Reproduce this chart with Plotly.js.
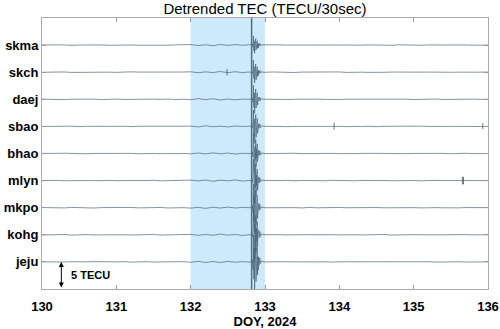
<!DOCTYPE html>
<html>
<head>
<meta charset="utf-8">
<script src="https://cdn.plot.ly/plotly-3.0.1.min.js"></script>
<style>html,body{margin:0;padding:0;background:#fff;}#chart{width:500px;height:329px;}</style>
</head>
<body>
<div id="chart"></div>
<script>
// Station names, top to bottom
const stations = ["skma","skch","daej","sbao","bhao","mlyn","mkpo","kohg","jeju"];

// Sample times (DOY 2024)
const time = [
  130.0,130.1,130.2,130.3,130.4,130.5,130.6,130.7,130.8,130.9,
  131.0,131.1,131.2,131.3,131.4,131.5,131.6,131.7,131.8,131.9,
  132.0,132.1,132.2,132.3,132.4,132.5,132.6,132.7,132.8,
  132.81,132.82,132.83,132.84,132.845,132.85,132.855,132.86,132.865,132.87,
  132.875,132.88,132.885,132.89,132.895,132.90,132.905,132.91,132.915,132.92,
  132.93,132.94,132.95,
  133.0,133.1,133.2,133.3,133.4,133.5,133.6,133.7,133.8,133.9,
  134.0,134.1,134.2,134.3,134.4,134.5,134.6,134.7,134.8,134.9,
  135.0,135.1,135.2,135.3,135.4,135.5,135.6,135.7,135.8,135.9,136.0
];

// Detrended TEC (TECU) per station
const skma = [0.02,-0.03,0.04,0.03,-0.05,0.02,0.06,0.00,0.03,-0.04,0.01,0.05,0.02,-0.03,-0.06,0.04,0.00,-0.03,0.05,0.08,0.10,-0.08,0.06,-0.12,0.12,-0.06,0.10,-0.04,0.03,
  0.10,-0.10,0.20,-0.40,1.70,-1.10,0.80,-1.50,0.60,-0.50,1.20,-0.90,0.40,-0.30,0.80,-0.60,0.30,-0.50,0.25,-0.20,0.30,-0.15,0.05,
  0.02,-0.03,0.04,0.01,0.05,-0.04,0.02,0.00,-0.03,0.06,0.02,0.03,-0.05,-0.02,0.04,-0.02,0.01,-0.04,0.05,0.00,0.02,-0.03,0.04,-0.02,0.01,0.03,-0.04,0.02,-0.01,0.03,0.00];
const skch = [-0.02,0.03,0.00,0.05,-0.04,-0.02,0.06,-0.05,0.02,0.01,-0.03,0.04,0.07,0.02,0.01,-0.05,0.03,0.00,-0.04,0.03,0.08,-0.10,0.06,-0.06,0.12,-0.08,0.08,-0.06,0.04,
  -0.10,0.15,-0.30,0.50,2.20,-1.20,1.00,-2.00,0.70,-0.60,1.50,-1.40,0.50,-0.40,1.00,-0.80,0.35,-0.60,0.30,-0.25,0.35,-0.15,0.06,
  -0.02,0.04,0.00,0.03,-0.05,0.02,0.04,-0.03,0.01,-0.02,0.05,-0.04,0.02,0.00,-0.03,0.04,-0.02,0.03,-0.01,0.04,-0.04,0.01,0.02,-0.03,0.05,-0.01,0.01,-0.03,0.03,0.00,0.02];
const daej = [0.03,-0.02,0.04,-0.05,0.02,0.05,-0.01,0.03,-0.06,0.02,0.05,-0.02,0.01,0.06,-0.04,0.03,-0.01,0.04,-0.05,0.02,-0.08,0.12,-0.06,0.10,-0.12,0.06,-0.10,0.06,-0.03,
  0.08,-0.12,0.25,-0.50,2.60,-1.50,1.20,-2.60,0.90,-0.80,1.90,-1.60,0.60,-0.50,1.20,-1.10,0.40,-0.70,0.40,-0.30,0.40,-0.20,0.08,
  0.01,-0.03,0.05,-0.02,0.01,0.04,-0.04,0.03,-0.01,0.05,-0.03,0.02,0.03,-0.05,0.02,-0.01,0.04,-0.02,0.01,0.03,-0.04,0.02,-0.01,0.05,-0.03,0.01,0.02,-0.04,0.03,-0.01,0.01];
const sbao = [-0.01,0.04,-0.03,0.02,0.05,-0.04,0.02,-0.01,0.06,-0.03,0.01,0.04,-0.05,0.03,0.01,-0.02,0.05,-0.04,0.02,0.03,0.06,-0.10,0.12,-0.06,0.05,-0.10,0.08,-0.03,0.05,
  -0.06,0.15,-0.30,0.60,3.00,-1.80,1.40,-3.10,1.10,-0.90,2.20,-2.00,0.80,-0.70,1.50,-1.30,0.50,-0.90,0.50,-0.35,0.45,-0.22,0.08,
  0.02,-0.02,0.03,-0.04,0.01,0.03,-0.02,0.05,-0.03,0.02,0.01,-0.04,0.04,-0.01,0.03,-0.05,0.02,0.04,-0.02,0.01,-0.03,0.05,-0.01,0.02,-0.04,0.03,0.01,-0.02,0.04,-0.02,0.01];
const bhao = [0.02,-0.03,0.02,0.05,-0.02,0.04,-0.05,0.01,0.03,-0.04,0.06,-0.01,0.02,-0.04,0.05,0.01,-0.03,0.04,-0.02,0.01,-0.06,0.10,-0.08,0.12,-0.05,0.08,-0.10,0.04,-0.02,
  0.12,-0.10,0.30,-0.70,3.50,-2.00,1.60,-3.60,1.30,-1.10,2.60,-2.40,0.90,-0.80,1.80,-1.50,0.60,-1.00,0.60,-0.40,0.50,-0.25,0.10,
  -0.02,0.03,-0.04,0.01,0.04,-0.02,0.01,-0.05,0.03,0.02,-0.03,0.04,-0.01,0.02,-0.04,0.03,0.01,-0.03,0.05,-0.02,0.01,0.03,-0.03,0.01,0.02,-0.04,0.02,0.04,-0.02,0.01,0.00];
const mlyn = [-0.02,0.03,0.04,-0.03,0.01,-0.05,0.04,0.01,-0.03,0.05,-0.02,0.03,-0.04,0.02,0.00,0.06,-0.04,0.02,-0.01,0.04,0.09,-0.07,0.10,-0.12,0.08,-0.05,0.12,-0.08,0.04,
  -0.10,0.20,-0.35,0.80,4.00,-2.40,1.90,-4.20,1.50,-1.30,3.00,-2.80,1.00,-0.90,2.10,-1.80,0.70,-1.20,0.70,-0.45,0.55,-0.25,0.10,
  0.03,-0.02,0.01,0.04,-0.04,0.02,-0.01,0.03,-0.03,0.05,-0.01,0.02,-0.04,0.03,0.05,-0.02,0.01,-0.03,0.04,-0.01,0.02,-0.05,0.02,0.03,-0.01,0.04,-0.03,0.01,-0.02,0.03,0.00];
const mkpo = [0.03,-0.02,0.01,-0.04,0.05,-0.02,0.03,-0.06,0.02,0.04,-0.03,0.01,0.05,-0.03,0.02,-0.01,0.04,-0.05,0.03,0.01,-0.08,0.06,-0.12,0.09,-0.06,0.11,-0.05,0.07,-0.03,
  0.15,-0.18,0.35,-0.90,4.40,-2.70,2.10,-4.60,1.70,-1.50,3.30,-3.10,1.10,-1.00,2.30,-2.00,0.80,-1.30,0.80,-0.50,0.60,-0.28,0.12,
  -0.01,0.03,-0.03,0.02,0.01,-0.04,0.05,-0.02,0.02,-0.03,0.04,-0.01,0.03,-0.05,0.01,0.03,-0.02,0.02,0.04,-0.03,0.01,-0.04,0.02,0.01,-0.02,0.04,-0.03,0.02,0.01,-0.02,0.01];
const kohg = [-0.03,0.02,-0.01,0.04,-0.05,0.02,0.04,-0.02,0.01,-0.04,0.05,0.01,-0.03,0.03,-0.02,0.05,-0.04,0.01,0.03,-0.02,0.08,-0.10,0.06,-0.09,0.13,-0.07,0.05,-0.11,0.04,
  -0.12,0.22,-0.40,1.00,4.70,-2.90,2.30,-4.90,1.80,-1.60,3.60,-3.30,1.20,-1.10,2.50,-2.20,0.90,-1.40,0.85,-0.55,0.65,-0.30,0.12,
  0.02,-0.04,0.02,-0.01,0.04,-0.03,0.03,0.01,-0.05,0.02,-0.02,0.04,0.01,-0.03,0.03,-0.01,0.05,-0.04,0.02,-0.02,0.03,0.01,-0.03,0.04,-0.01,0.02,-0.04,0.03,-0.01,0.02,0.00];
const jeju = [0.01,-0.03,0.04,-0.02,0.03,-0.04,0.01,0.05,-0.03,0.02,-0.01,0.04,-0.05,0.02,0.04,-0.03,0.01,-0.04,0.03,0.05,-0.07,0.09,-0.10,0.08,-0.12,0.10,-0.06,0.05,-0.04,
  0.14,-0.20,0.40,-1.50,5.00,-3.20,2.50,-5.40,2.00,-1.80,3.90,-3.60,1.30,-1.20,2.70,-2.40,1.00,-1.50,0.90,-0.60,0.70,-0.30,0.15,
  -0.02,0.03,-0.04,0.02,0.01,-0.03,0.04,-0.01,0.03,-0.05,0.02,0.03,-0.02,0.01,-0.04,0.04,-0.01,0.02,-0.03,0.05,-0.02,0.01,0.03,-0.04,0.02,-0.01,0.03,-0.02,0.04,-0.01,0.01];

const series = [skma, skch, daej, sbao, bhao, mlyn, mkpo, kohg, jeju];

// Isolated spikes: station, time, low/high (TECU)
const spikeStation = ["skch","sbao","sbao","mlyn","mlyn"];
const spikeTime    = [132.49, 133.93, 135.93, 135.655, 135.67];
const spikeLow     = [-0.6, -0.6, -0.5, -0.7, -0.7];
const spikeHigh    = [0.6, 0.7, 0.6, 0.7, 0.7];

// Highlighted window and event time
const windowStart = 132.0, windowEnd = 133.0;
const eventTime = 132.82;
const scaleTECU = 5;           // length of scale bar
const scaleBarX = 130.26;

const xTicks = [130,131,132,133,134,135,136];
const tecPerUnit = 5;          // 5 TECU = one station spacing

const n = stations.length;
const offsetOf = s => n - stations.indexOf(s);
const lineColor = "rgba(72,96,114,0.85)";

const traces = series.map((vals, i) => ({
  x: time,
  y: vals.map(v => (n - i) + v / tecPerUnit),
  type: "scatter", mode: "lines",
  line: {color: lineColor, width: 0.8},
  hoverinfo: "skip", showlegend: false
}));
spikeStation.forEach((s, k) => {
  const o = offsetOf(s);
  traces.push({
    x: [spikeTime[k], spikeTime[k]],
    y: [o + spikeLow[k] / tecPerUnit, o + spikeHigh[k] / tecPerUnit],
    type: "scatter", mode: "lines",
    line: {color: lineColor, width: 1},
    hoverinfo: "skip", showlegend: false
  });
});

const fam = "Liberation Sans, Arial, sans-serif";
const layout = {
  width: 500, height: 329,
  margin: {l: 42, r: 12, t: 18, b: 40, pad: 0},
  paper_bgcolor: "#fff", plot_bgcolor: "#fff",
  font: {family: fam, color: "#000"},
  title: {text: "Detrended TEC (TECU/30sec)", font: {size: 15, family: fam, color: "#000"},
          x: 0.5, xref: "paper", y: 1 - 9/329, yref: "container", yanchor: "middle"},
  xaxis: {
    range: [130, 136], tickvals: xTicks, ticktext: xTicks.map(v => "<b>" + v + "</b>"),
    ticks: "inside", ticklen: 4, tickcolor: "#999", mirror: "ticks", ticklabelstandoff: 5,
    showline: true, linecolor: "#aaa", linewidth: 1, showgrid: false, zeroline: false,
    tickfont: {size: 13, family: fam, color: "#000"},
    title: {text: "<b>DOY, 2024</b>", font: {size: 13, family: fam, color: "#000"}, standoff: 6}
  },
  yaxis: {
    range: [0, 10], tickvals: stations.map((s, i) => n - i), ticktext: stations.map(s => "<b>" + s + "</b>"),
    ticks: "inside", ticklen: 4, tickcolor: "#999", mirror: "ticks",
    showline: true, linecolor: "#aaa", linewidth: 1, showgrid: false, zeroline: false,
    tickfont: {size: 13, family: fam, color: "#000"}
  },
  shapes: [
    {type: "rect", xref: "x", yref: "paper", x0: windowStart, x1: windowEnd, y0: 0, y1: 1,
     fillcolor: "#cde9fb", line: {width: 0}, layer: "below"},
    {type: "line", xref: "x", yref: "paper", x0: eventTime, x1: eventTime, y0: 0, y1: 1,
     line: {color: "#4f7089", width: 1.5}, layer: "above"}
  ],
  annotations: [
    {x: scaleBarX, y: scaleTECU / tecPerUnit, ax: scaleBarX, ay: 0, xref: "x", yref: "y", axref: "x", ayref: "y",
     showarrow: true, arrowhead: 2, arrowside: "end+start", arrowsize: 1, arrowwidth: 1, arrowcolor: "#000", text: ""},
    {x: scaleBarX + 0.1, y: 0.5 * scaleTECU / tecPerUnit, xref: "x", yref: "y", xanchor: "left", yanchor: "middle",
     showarrow: false, text: "<b>" + scaleTECU + " TECU</b>", font: {size: 11, family: fam, color: "#000"}}
  ]
};

Plotly.newPlot("chart", traces, layout, {staticPlot: true, displayModeBar: false});
</script>
</body>
</html>
